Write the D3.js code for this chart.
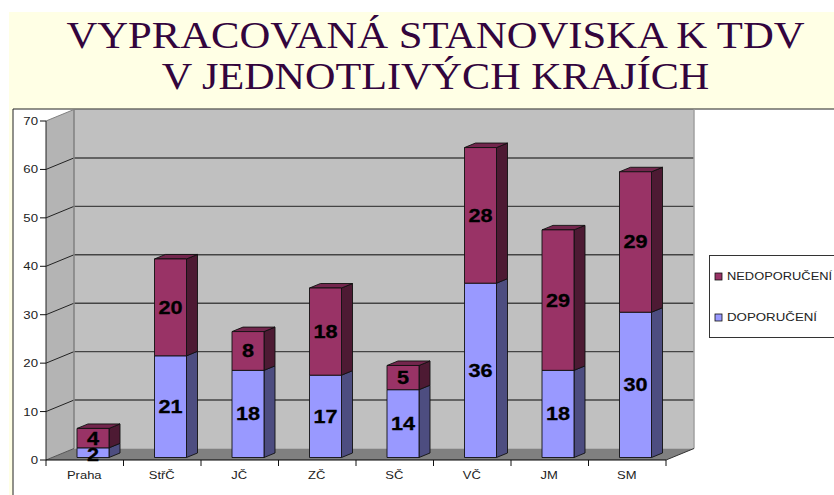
<!DOCTYPE html>
<html><head><meta charset="utf-8">
<script src="https://cdn.jsdelivr.net/npm/d3@7"></script>
<style>html,body{margin:0;padding:0;background:#fff}svg{display:block}</style></head>
<body><svg id="c" width="834" height="495"></svg>
<script>
const categories = ["Praha","StřČ","JČ","ZČ","SČ","VČ","JM","SM"];
const doporuceni = [2,21,18,17,14,36,18,30];
const nedoporuceno = [4,20,8,18,5,28,29,29];
const yTicks = [0,10,20,30,40,50,60,70];
const titleLines = ["VYPRACOVANÁ STANOVISKA K TDV","V JEDNOTLIVÝCH KRAJÍCH"];
const legendLabels = ["NEDOPORUČENÍ","DOPORUČENÍ"];

const svg = d3.select("#c");
const sans = "Liberation Sans, Arial, sans-serif";
const x = d3.scaleBand().domain(categories).range([46,666]).padding(0);
const y = d3.scaleLinear().domain([0,70]).range([460,121]);
const dx = 28, dy = -11.5, bdx = 11, bdy = -4.5;
const poly = (pts,fill,stroke,sw=1)=>svg.append("polygon").attr("points",pts.map(p=>p.join(",")).join(" ")).attr("fill",fill).attr("stroke",stroke||"none").attr("stroke-width",sw);
const line = (a,b,s,sw=1)=>svg.append("line").attr("x1",a[0]).attr("y1",a[1]).attr("x2",b[0]).attr("y2",b[1]).attr("stroke",s).attr("stroke-width",sw);
// horizontally stretched text, as in the reference
const stretched = (tx,ty,sx,anchor,family,size,fill,str)=>svg.append("text")
  .attr("transform",`translate(${tx},${ty}) scale(${sx},1)`).attr("text-anchor",anchor)
  .attr("font-family",family).attr("font-size",size).attr("fill",fill).text(str);

// header band
svg.append("rect").attr("x",9).attr("y",12).attr("width",825).attr("height",97).attr("fill","#ffffe5");
titleLines.forEach((t,i)=>stretched(435.5,48+i*40.5,i?1.125:1.138,"middle","Liberation Serif, Times New Roman, serif",37.5,"#33053d",t));
// chart area frame
svg.append("rect").attr("x",13).attr("y",109).attr("width",821).attr("height",386).attr("fill","#fff");
svg.append("rect").attr("x",9).attr("y",109).attr("width",4).attr("height",386).attr("fill","#ffffe5");
line([13,109],[13,495],"#222",1);
line([13,109],[834,109],"#222",1);

const [L,R] = x.range(), B=y(0), T=y(70);
// walls
poly([[L+dx,T+dy],[R+dx,T+dy],[R+dx,B+dy],[L+dx,B+dy]],"#c0c0c0");
poly([[L,T],[L+dx,T+dy],[L+dx,B+dy],[L,B]],"#b4b4b4");
poly([[L,B],[L+dx,B+dy],[R+dx,B+dy],[R,B]],"#808080");
// gridlines
yTicks.forEach(t=>{
  if(t>0&&t<70){
    line([L,y(t)],[L+dx,y(t)+dy],"#222");
    line([L+dx,y(t)+dy],[R+dx,y(t)+dy],"#444",1.4);
  }
});
line([L,T],[L+dx,T+dy],"#808080");
line([L+dx,T+dy],[R+dx,T+dy],"#808080");
line([L+dx,T+dy],[L+dx,B+dy],"#808080",1.5);
line([R+dx,T+dy],[R+dx,B+dy],"#a0a0a0",1.5);
line([L,B],[L+dx,B+dy],"#555");
line([R,B],[R+dx,B+dy],"#333");
line([L,T],[L,B],"#222");
line([L,B],[R,B],"#000",1.2);
// axes
yTicks.forEach(t=>{
  stretched(38,y(t)+4,1.2,"end",sans,11,"#222",t);
  line([L-6,y(t)],[L,y(t)],"#111");
});
d3.range(categories.length+1).forEach(i=>line([L+i*x.step(),B],[L+i*x.step(),B+6],"#111"));
categories.forEach(c=>stretched(x(c)+x.step()/2-0.5,479,1.18,"middle",sans,11,"#222",c));

// bars
const barW = 32, barOff = 31, base = 2.5;
function seg(i,v0,v1,front,side,top,drawTop){
  const x0=x(categories[i])+barOff, x1=x0+barW, yb=y(v0)-base, yt=y(v1)-base;
  poly([[x1,yb],[x1+bdx,yb+bdy],[x1+bdx,yt+bdy],[x1,yt]],side,"#111",0.9);
  if(drawTop) poly([[x0,yt],[x0+bdx,yt+bdy],[x1+bdx,yt+bdy],[x1,yt]],top,"#111",0.9);
  poly([[x0,yb],[x1,yb],[x1,yt],[x0,yt]],front,"#111",0.9);
}
const lab=(i,v,yy)=>stretched(x(categories[i])+barOff+barW/2,yy+6.5,1.14,"middle",sans,19,"#000",v)
  .attr("font-weight","bold").attr("stroke","#000").attr("stroke-width",0.3);
categories.forEach((c,i)=>{
  const a=doporuceni[i], b=nedoporuceno[i];
  seg(i,0,a,"#9999ff","#4d4d80","#6b6bb3",false);
  seg(i,a,a+b,"#993366","#4d1a33","#73264d",true);
});
categories.forEach((c,i)=>{
  const a=doporuceni[i], b=nedoporuceno[i];
  lab(i,a,y(a/2)-base+(i==0?1.5:0));
  lab(i,b,y(a+b/2)-base);
});

// legend
svg.append("rect").attr("x",709.5).attr("y",255.5).attr("width",130).attr("height",82).attr("fill","#fff").attr("stroke","#333");
legendLabels.forEach((l,i)=>{
  const yy=276+i*41;
  svg.append("rect").attr("x",715).attr("y",yy-3).attr("width",7).attr("height",7)
    .attr("fill",i?"#9999ff":"#993366").attr("stroke","#111").attr("stroke-width",0.8);
  stretched(727,yy+4,i?1.21:1.17,"start",sans,11,"#222",l);
});
</script></body></html>
